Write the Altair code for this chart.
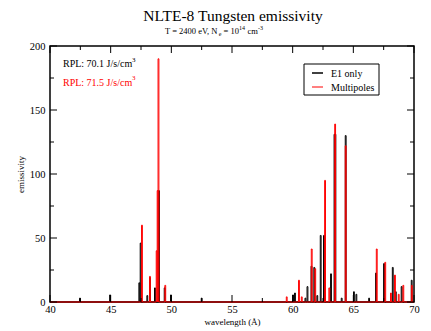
import altair as alt
import pandas as pd

# ---- data ----
e1_wl = [42.47, 44.95, 47.36, 47.47, 48.02, 48.24, 48.65, 48.98, 49.45, 49.97, 52.50,
         60.03, 60.19, 61.05, 61.22, 61.55, 61.78, 62.03, 62.31, 62.58, 63.16, 63.45,
         63.52, 64.04, 64.37, 65.05, 65.25, 66.30, 66.87, 67.53, 68.25, 68.50, 68.98, 69.81]
e1_val = [3, 5.5, 15, 46, 5, 19, 11, 87, 11, 5.5, 3,
          5.5, 7, 3, 12, 28, 27, 5, 52, 52, 22, 131,
          131, 3, 130, 8, 6, 3, 22.6, 30, 27, 8, 12, 17]
mp_wl = [47.58, 48.24, 48.79, 48.87, 48.94, 49.50, 59.51, 60.52, 60.75, 61.57, 61.86,
         62.67, 63.02, 63.50, 64.37, 66.93, 67.63, 68.10, 68.43, 68.74, 69.12, 69.82]
mp_val = [60, 20, 40, 87, 190, 13, 4, 17, 4, 41.4, 26,
          95, 11, 139, 122, 41.4, 31, 7, 21, 6, 13, 13]

x_major = [40, 45, 50, 55, 60, 65, 70]
x_minor = [42.5, 47.5, 52.5, 57.5, 62.5, 67.5]
y_major = [0, 50, 100, 150, 200]
y_minor = [25, 75, 125, 175]

W, H = 364, 256
FONT = "Liberation Serif"
HALF = 0.035


def spikes(wl, val):
    rows = [(40.0, 0.0)]
    for w, v in sorted(zip(wl, val)):
        rows += [(w - HALF, 0.0), (w - HALF, v), (w + HALF, v), (w + HALF, 0.0)]
    rows.append((70.0, 0.0))
    return pd.DataFrame({"wl": [r[0] for r in rows], "em": [r[1] for r in rows],
                         "idx": list(range(len(rows)))})


xs = alt.Scale(domain=[40, 70], nice=False, zero=False)
ys = alt.Scale(domain=[0, 200], nice=False)

xaxis = alt.Axis(values=x_major, labelFont=FONT, labelFontSize=10.5, labelColor="black",
                 labelPadding=2, labelFlush=False, ticks=False, domain=False, grid=False,
                 title="wavelength (Å)", titleFont=FONT, titleFontSize=9,
                 titleFontWeight="normal", titleColor="black", titlePadding=3)
yaxis = alt.Axis(values=y_major, labelFont=FONT, labelFontSize=10.5, labelColor="black",
                 labelPadding=5, labelFlush=False, ticks=False, domain=False, grid=False,
                 title="emissivity", titleFont=FONT, titleFontSize=9,
                 titleFontWeight="normal", titleColor="black", titlePadding=4)

e1 = alt.Chart(spikes(e1_wl, e1_val)).mark_line(color="black", strokeWidth=1).encode(
    x=alt.X("wl:Q", scale=xs, axis=xaxis),
    y=alt.Y("em:Q", scale=ys, axis=yaxis),
    order="idx:Q",
)
mp = alt.Chart(spikes(mp_wl, mp_val)).mark_line(color="#ff0000", strokeWidth=1).encode(
    x=alt.X("wl:Q", scale=xs), y=alt.Y("em:Q", scale=ys), order="idx:Q"
)


# inward tick marks on all four sides
def xticks(vals, ln):
    d = pd.DataFrame({"v": vals})
    b = alt.Chart(d).mark_rule(color="black", strokeWidth=1).encode(
        x=alt.X("v:Q", scale=xs), y=alt.value(H), y2=alt.value(H - ln))
    t = alt.Chart(d).mark_rule(color="black", strokeWidth=1).encode(
        x=alt.X("v:Q", scale=xs), y=alt.value(0), y2=alt.value(ln))
    return [b, t]


def yticks(vals, ln):
    d = pd.DataFrame({"v": vals})
    l = alt.Chart(d).mark_rule(color="black", strokeWidth=1).encode(
        y=alt.Y("v:Q", scale=ys), x=alt.value(0), x2=alt.value(ln))
    r = alt.Chart(d).mark_rule(color="black", strokeWidth=1).encode(
        y=alt.Y("v:Q", scale=ys), x=alt.value(W), x2=alt.value(W - ln))
    return [l, r]


ticks = xticks(x_major, 7) + xticks(x_minor, 4) + yticks(y_major, 7) + yticks(y_minor, 4)

one = alt.Data(values=[{"a": 1}])


def txt(s, x, y, size=10, color="black", align="left"):
    return alt.Chart(one).mark_text(text=s, font=FONT, fontSize=size, color=color,
                                    align=align, baseline="alphabetic").encode(
        x=alt.value(x), y=alt.value(y))


texts = [
    txt("NLTE-8 Tungsten emissivity", 183, -25.5, size=15.5, align="center"),
    txt("T = 2400 eV, N", 115, -12, size=8.5),
    txt("e", 168.7, -10, size=6),
    txt("= 10", 173.5, -12, size=8.5),
    txt("14", 189, -16, size=6),
    txt("cm", 197.5, -12, size=8.5),
    txt("-3", 208, -16, size=6),
    txt("RPL: 70.1 J/s/cm", 13, 21, size=10),
    txt("3", 82, 15.5, size=7),
    txt("RPL: 71.5 J/s/cm", 13, 39.5, size=10, color="#ff0000"),
    txt("3", 82, 34, size=7, color="#ff0000"),
    txt("E1 only", 281, 30.5, size=10),
    txt("Multipoles", 281, 44.5, size=10),
]

legend_box = alt.Chart(one).mark_rect(fill="white", stroke="black", strokeWidth=1).encode(
    x=alt.value(254), x2=alt.value(329), y=alt.value(18), y2=alt.value(49))
leg_black = alt.Chart(one).mark_rule(color="black", strokeWidth=1.5).encode(
    x=alt.value(262), x2=alt.value(273), y=alt.value(27))
leg_red = alt.Chart(one).mark_rule(color="#ff0000", strokeWidth=1).encode(
    x=alt.value(262), x2=alt.value(273), y=alt.value(41))

chart = alt.layer(e1, mp, *ticks, legend_box, leg_black, leg_red, *texts).properties(
    width=W, height=H,
    autosize=alt.AutoSizeParams(type="none"),
    padding={"left": 42, "top": 38, "right": 9, "bottom": 27},
    background="white",
).configure_view(stroke="black", strokeWidth=1.5).configure_axis(
    labelFont=FONT, titleFont=FONT
)

chart.save("out.html", embed_options={"renderer": "svg", "actions": False})
